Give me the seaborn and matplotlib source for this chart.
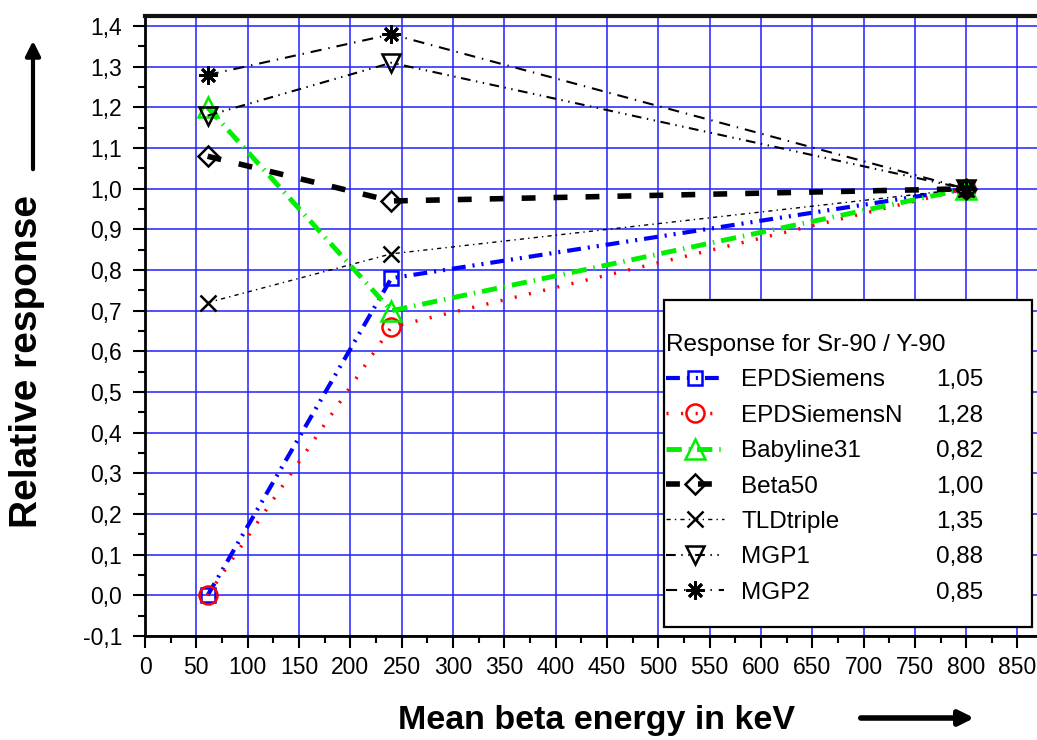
import matplotlib
matplotlib.use("Agg")
import matplotlib.pyplot as plt
import seaborn as sns
import pandas as pd
import numpy as np
from matplotlib.ticker import MultipleLocator, FuncFormatter
from matplotlib.patches import Rectangle

# ---------------- data ----------------
energies = [61, 240, 800]
series_names = ["EPDSiemens", "EPDSiemensN", "Babyline31", "Beta50", "TLDtriple", "MGP1", "MGP2"]
epd_siemens = [0.00, 0.78, 1.00]
epd_siemens_n = [0.00, 0.66, 1.00]
babyline31 = [1.20, 0.70, 1.00]
beta50 = [1.08, 0.97, 1.00]
tld_triple = [0.72, 0.84, 1.00]
mgp1 = [1.18, 1.31, 1.00]
mgp2 = [1.28, 1.38, 1.00]
sr90_response = [1.05, 1.28, 0.82, 1.00, 1.35, 0.88, 0.85]
legend_title = "Response for Sr-90 / Y-90"
x_label = "Mean beta energy in keV"
y_label = "Relative response"

values = [epd_siemens, epd_siemens_n, babyline31, beta50, tld_triple, mgp1, mgp2]
df = pd.DataFrame({
    "energy": energies * len(series_names),
    "response": [v for vals in values for v in vals],
    "device": [n for n in series_names for _ in energies],
})

# ---------------- style ----------------
sns.set_style("white")
plt.rcParams["font.family"] = ["Liberation Sans", "DejaVu Sans"]
plt.rcParams["lines.scale_dashes"] = False
for k in ["text.color", "axes.labelcolor", "xtick.color", "ytick.color"]:
    plt.rcParams[k] = "black"

styles = {
    "EPDSiemens":  dict(color="#0000ff", lw=3.0, ls=(0, (10, 5, 1.5, 5, 1.5, 5)), marker="s", ms=10, mew=1.8),
    "EPDSiemensN": dict(color="#ff0000", lw=2.5, ls=(0, (1.5, 9)), marker="o", ms=13, mew=1.8),
    "Babyline31":  dict(color="#00ee00", lw=3.5, ls=(0, (11, 5, 1, 5)), marker="^", ms=14, mew=1.8),
    "Beta50":      dict(color="black", lw=4.0, ls=(0, (10, 13)), marker="D", ms=10, mew=1.8),
    "TLDtriple":   dict(color="black", lw=1.0, ls=(0, (3, 3, 1, 3)), marker="x", ms=12, mew=1.8),
    "MGP1":        dict(color="black", lw=1.5, ls=(0, (7, 4, 1, 4, 1, 4)), marker="v", ms=13, mew=1.8),
    "MGP2":        dict(color="black", lw=1.5, ls=(0, (8, 5, 1, 5)), marker=(8, 2, 0), ms=13, mew=2.0),
}

W, H = 1037, 740
fig = plt.figure(figsize=(W / 100, H / 100), dpi=100)
ax = fig.add_axes([145 / W, 1 - 636 / H, 892 / W, 620 / H])

for name in series_names:
    s = styles[name]
    sub = df[df["device"] == name]
    sns.lineplot(data=sub, x="energy", y="response", ax=ax, color=s["color"],
                 linewidth=s["lw"], linestyle=s["ls"], marker=s["marker"],
                 markersize=s["ms"], markeredgewidth=s["mew"],
                 markerfacecolor="none", markeredgecolor=s["color"],
                 label=name, zorder=3, clip_on=False)

ax.set_xlim(0, 869)
ax.set_ylim(-0.1, 1.425)
ax.xaxis.set_major_locator(MultipleLocator(50))
ax.xaxis.set_minor_locator(MultipleLocator(25))
ax.yaxis.set_major_locator(MultipleLocator(0.1))
ax.yaxis.set_minor_locator(MultipleLocator(0.05))
ax.xaxis.set_major_formatter(FuncFormatter(lambda v, p: f"{v:.0f}"))
ax.yaxis.set_major_formatter(FuncFormatter(lambda v, p: f"{v:.1f}".replace(".", ",").replace("-0,0", "0,0")))
ax.set_xticks([t for t in range(0, 851, 50)])
ax.tick_params(axis="both", which="major", direction="out", length=8.5, width=1.5,
               labelsize=16.5, color="black", labelcolor="black")
ax.tick_params(axis="both", which="minor", direction="out", length=5, width=1.5, color="black")
ax.tick_params(axis="y", which="major", pad=8)
ax.tick_params(axis="x", which="major", pad=6)
ax.tick_params(bottom=True, left=True, which="both")

ax.grid(True, which="major", color="#2020ff", lw=1.1)
ax.set_axisbelow(True)
for side in ["left", "bottom"]:
    ax.spines[side].set_color("black")
    ax.spines[side].set_linewidth(2)
ax.spines["top"].set_color("#111111")
ax.spines["top"].set_linewidth(3)
ax.spines["right"].set_visible(False)
ax.set_xlabel("")
ax.set_ylabel("")

# legend box
box = Rectangle((0.582, 0.0145), 0.412, 0.5275, transform=ax.transAxes,
                facecolor="white", edgecolor="black", lw=1.6, zorder=5)
ax.add_patch(box)
handles, labels = ax.get_legend_handles_labels()
leg = ax.legend(handles, labels, title=legend_title, loc="upper left",
                bbox_to_anchor=(0.584, 0.487), frameon=False, fontsize=17.5,
                title_fontsize=17.5, alignment="left", handlelength=2.4,
                handletextpad=0.7, labelspacing=0.55, borderpad=0, borderaxespad=0)
leg.set_zorder(6)

fig.canvas.draw()
inv = fig.transFigure.inverted()
for t, val in zip(leg.get_texts(), sr90_response):
    bb = t.get_window_extent()
    yc = (bb.y0 + bb.y1) / 2
    _, yf = inv.transform((0, yc))
    fig.text(983 / W, yf, f"{val:.2f}".replace(".", ","), ha="right", va="center",
             fontsize=17.5, zorder=7)

# axis labels
fig.text(597 / W, 1 - 720 / H, x_label, ha="center", va="center",
         fontsize=24.5, fontweight="bold")
fig.text(27 / W, 1 - 362 / H, y_label, ha="center", va="center", rotation=90,
         fontsize=28, fontweight="bold")

# arrows
ax.annotate("", xy=(33, H - 38), xytext=(33, H - 172), xycoords="figure pixels",
            textcoords="figure pixels",
            arrowprops=dict(arrowstyle="-|>", lw=3, color="black", mutation_scale=22))
ax.annotate("", xy=(977, H - 718), xytext=(858, H - 718), xycoords="figure pixels",
            textcoords="figure pixels",
            arrowprops=dict(arrowstyle="-|>", lw=4, color="black", mutation_scale=22))

fig.savefig("out.png", dpi=100)
